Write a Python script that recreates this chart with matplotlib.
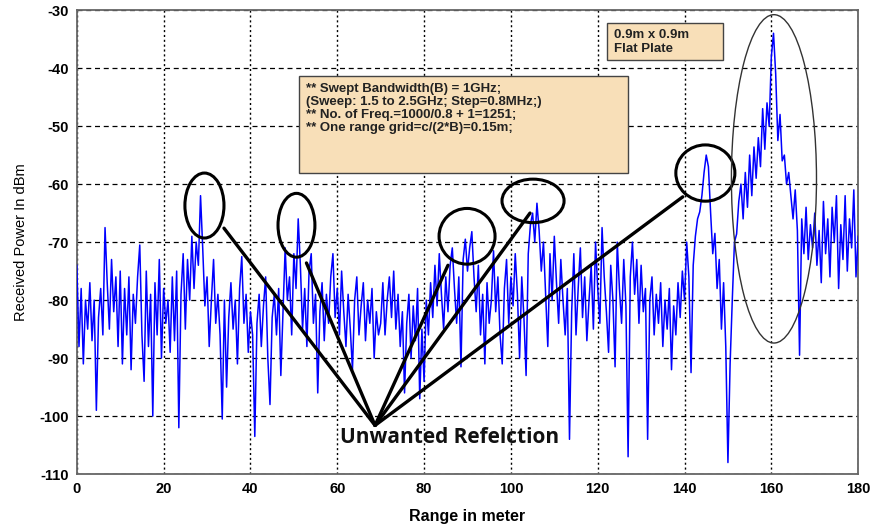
"""
Range profile plot - flat plate measurement
Received power vs range, with unwanted reflections marked
"""

import matplotlib
matplotlib.use('Agg')
import matplotlib.pyplot as plt
from matplotlib.patches import Ellipse, Rectangle

plt.rcParams['axes.unicode_minus'] = False

# range axis, 0.5 m step
range_step = 0.5

# received power (dBm), 10 m per row
power_dbm = [
    -74, -88, -78, -91, -80, -85, -77, -87, -80, -99, -83, -78, -86, -67.5, -77, -85, -73, -82, -76, -88,
    -75, -91, -78, -86, -76, -92, -79, -84, -76, -70.5, -86, -94, -75, -88, -79, -100, -77, -86, -73, -90,
    -78, -84, -80, -89, -76, -87, -75, -102, -79, -72, -85, -73, -80, -69, -78, -70, -74, -62, -71, -81,
    -76, -88, -80, -73, -84, -79, -86, -100.5, -80, -95, -83, -77, -85, -80, -91, -78, -72.5, -84, -79, -89,
    -82, -86, -103.5, -84, -79, -88, -81, -76, -90, -98, -83, -79, -86, -78, -93, -82, -71, -80, -76, -86,
    -72, -78, -66, -74, -85, -78, -88, -75, -72, -84, -79, -96, -82, -77, -87, -79, -84, -76, -72, -83,
    -78, -86, -75, -82, -88, -79, -85, -92, -80, -76, -86, -81, -77, -87, -80, -84, -78, -90, -82, -86,
    -84, -77, -86, -80, -76, -83, -75, -85, -79, -88, -82, -96, -84, -79, -90, -81, -87, -78, -97, -85,
    -94, -80, -86, -77, -83, -74, -81, -72, -79, -85, -76, -82, -74, -71, -78, -84, -76, -91.5, -73, -69.5,
    -75, -71, -68.2, -76, -82, -74, -86, -79, -91, -77, -84, -80, -71.5, -82, -76, -86, -91, -78, -73, -84,
    -76, -81, -72, -79, -90, -76, -83, -93, -72, -67, -65, -70, -63.3, -68, -75, -70, -79, -88, -72, -80,
    -69, -77, -84, -73, -80, -86, -78, -104, -82, -72, -86, -78, -71, -83, -76, -87, -80, -74, -85, -70,
    -78, -84, -67.5, -76, -82, -89, -74, -80, -91.5, -70, -78, -84, -73, -81, -107, -76, -70, -79, -73, -84,
    -74, -82, -78, -104, -80, -76, -86, -79, -84, -77, -88, -80, -85, -78, -92, -81, -86, -77, -83, -75,
    -80, -70, -76, -92.5, -74, -69, -66, -64.8, -62, -58, -55, -57, -64.8, -72, -68.5, -78, -73, -85, -77, -88,
    -108, -91, -80, -70, -68.6, -63, -60, -66, -58, -64, -55, -62, -53.6, -59, -52, -57, -47, -54, -46, -50,
    -38, -34, -41, -52.5, -48, -56, -55, -60, -58, -62, -66, -61, -68, -89.5, -66, -72, -64, -73, -67, -71,
    -65, -74, -68, -77, -63, -72, -66, -76, -64, -70, -62, -78, -67, -73, -62, -75, -66, -71, -61, -76,
    -69,
]
range_m = [i * range_step for i in range(len(power_dbm))]

x_ticks = list(range(0, 181, 20))
y_ticks = list(range(-110, -29, 10))

info_lines = [
    "** Swept Bandwidth(B) = 1GHz;",
    "(Sweep: 1.5 to 2.5GHz; Step=0.8MHz;)",
    "** No. of Freq.=1000/0.8 + 1=1251;",
    "** One range grid=c/(2*B)=0.15m;",
]
target_lines = ["0.9m x 0.9m", "Flat Plate"]

# marked reflections: (center x, center y, width, height)
reflections = [
    (29.4, -63.7, 9.0, 11.2),
    (50.6, -67.1, 8.5, 11.0),
    (89.9, -69.0, 12.9, 9.6),
    (105.1, -62.9, 14.3, 7.5),
    (144.8, -58.1, 13.6, 9.7),
]
target_ellipse = (160.6, -59.1, 19.6, 56.6)

# pointer lines: common vertex and the end on each circle
vertex = (68.7, -101.6)
pointer_ends = [(33.9, -67.6), (52.9, -73.6), (85.5, -74.0), (104.4, -65.0), (139.6, -62.2)]


def plot_range_profile(save_path='out.png'):
    fig = plt.figure(figsize=(8.73, 5.28), dpi=100)
    ax = fig.add_axes([0.088, 0.102, 0.895, 0.879])

    ax.plot(range_m, power_dbm, color='#0000FF', linewidth=1.1, zorder=3)

    ax.set_xlim(0, 180)
    ax.set_ylim(-110, -30)
    ax.set_xticks(x_ticks)
    ax.set_yticks(y_ticks)
    ax.tick_params(length=0, pad=6)
    for lab in ax.get_xticklabels() + ax.get_yticklabels():
        lab.set_fontfamily('Liberation Sans')
        lab.set_fontweight('bold')
        lab.set_fontsize(10.5)

    # grid: dashed horizontal, dotted vertical
    ax.yaxis.grid(True, color='black', linestyle=(0, (4, 3)), linewidth=0.9, zorder=1)
    ax.xaxis.grid(True, color='black', linestyle=(0, (1.5, 2)), linewidth=1.0, zorder=1)
    ax.set_axisbelow(True)
    for sp in ax.spines.values():
        sp.set_color('#666666')
        sp.set_linewidth(1.3)

    ax.set_xlabel('Range in meter', fontsize=11.5, fontweight='bold',
                  fontfamily='Liberation Sans', labelpad=9)
    ax.set_ylabel('Received Power In dBm', fontsize=10.5,
                  fontfamily='Liberation Sans', labelpad=8)

    # info box
    ax.add_patch(Rectangle((51.2, -58.1), 75.8, 16.7, facecolor='#F8DFB8',
                           edgecolor='#444444', linewidth=1.0, zorder=5))
    ax.text(52.8, -42.6, "\n".join(info_lines), fontsize=9.5, fontweight='bold',
            fontfamily='Liberation Sans', va='top', ha='left', linespacing=1.1,
            color='#222222', zorder=6)

    # target box
    ax.add_patch(Rectangle((122.1, -38.6), 26.7, 6.4, facecolor='#F8DFB8',
                           edgecolor='#444444', linewidth=1.0, zorder=5))
    ax.text(123.7, -33.3, "\n".join(target_lines), fontsize=9.5, fontweight='bold',
            fontfamily='Liberation Sans', va='top', ha='left', linespacing=1.2,
            color='#222222', zorder=6)

    # circles around unwanted reflections
    for cx, cy, w, h in reflections:
        ax.add_patch(Ellipse((cx, cy), w, h, fill=False, edgecolor='black',
                             linewidth=2.2, zorder=7))
    cx, cy, w, h = target_ellipse
    ax.add_patch(Ellipse((cx, cy), w, h, fill=False, edgecolor='#333333',
                         linewidth=1.0, zorder=7))

    for ex, ey in pointer_ends:
        ax.plot([vertex[0], ex], [vertex[1], ey], color='black', linewidth=2.4,
                solid_capstyle='round', zorder=7)

    ax.text(60.6, -104.6, 'Unwanted Refelction', fontsize=15, fontweight='bold',
            fontfamily='Open Sans', color='#111111', ha='left', va='baseline', zorder=8)

    fig.savefig(save_path, dpi=100)
    plt.close(fig)
    return True


if __name__ == "__main__":
    plot_range_profile('out.png')
